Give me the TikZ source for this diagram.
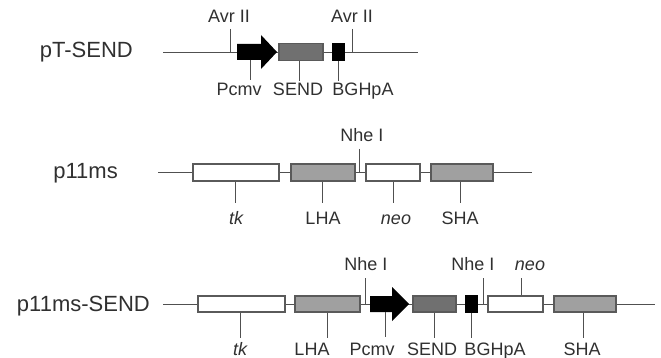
\documentclass[tikz,border=0pt]{standalone}
\usepackage{fontspec}
\setmainfont{Liberation Sans}
\definecolor{linegrey}{HTML}{505050}
\definecolor{boxgrey}{HTML}{5A5A5A}
\definecolor{darkfill}{HTML}{707070}
\definecolor{lightfill}{HTML}{A0A0A0}
\definecolor{txt}{HTML}{303030}
\begin{document}
\begin{tikzpicture}[x=1pt,y=-1pt,
	dna/.style={draw=linegrey,line width=0.9pt},
	part/.style={draw=boxgrey,line width=1.1pt,inner sep=0pt,minimum height=16pt},
	tick/.style={draw=linegrey,line width=0.9pt},
	rowlabel/.style={anchor=base east,inner sep=0pt,text=txt,font=\fontsize{22}{26}\selectfont},
	sitelabel/.style={anchor=base,inner sep=0pt,text=txt,font=\fontsize{18}{21}\selectfont}]

	\useasboundingbox (0,0) rectangle (661,358);

	\node (rowA) at (133,58) [rowlabel] {pT-SEND};
	\node (rowB) at (118,179) [rowlabel] {p11ms};
	\node (rowC) at (150,311) [rowlabel] {p11ms-SEND};

	\coordinate (lineAs) at (163,52);
	\coordinate (lineAe) at (418,52);
	\draw [dna] (lineAs) -- (lineAe);
	\fill [black] (237,44) -- (261,44) -- (261,35) -- (277,52) -- (261,69) -- (261,60) -- (237,60) -- cycle;
	\coordinate (pcmvA) at (250,60);
	\node (sendA) at (301,52) [part,fill=darkfill,minimum width=44pt,minimum height=17pt] {};
	\node (bghA) at (338.5,52) [part,fill=black,draw=black,minimum width=11pt] {};

	\node (avrA) at (229,23) [sitelabel] {Avr II};
	\node (avrB) at (352,23) [sitelabel] {Avr II};
	\draw [tick] (230,29) -- (lineAs -| 230,0);
	\draw [tick] (352,29) -- (lineAs -| 352,0);

	\node (pcmvAl) at (239,96) [sitelabel] {Pcmv};
	\node (sendAl) at (298,96) [sitelabel] {SEND};
	\node (bghAl) at (363,96) [sitelabel] {BGHpA};
	\draw [tick] (pcmvA) -- ++(0,20);
	\draw [tick] (sendA.south -| 299,0) -- ++(0,20);
	\draw [tick] (bghA.south) -- ++(0,20);

	\coordinate (lineBs) at (158,172.5);
	\coordinate (lineBe) at (532,172.5);
	\draw [dna] (lineBs) -- (lineBe);
	\node (tkB) at (236,172.5) [part,fill=white,minimum width=86pt,minimum height=17pt] {};
	\node (lhaB) at (323,172.5) [part,fill=lightfill,minimum width=64pt,minimum height=17pt] {};
	\node (neoB) at (393,172.5) [part,fill=white,minimum width=54pt,minimum height=17pt] {};
	\node (shaB) at (462,172.5) [part,fill=lightfill,minimum width=62pt,minimum height=17pt] {};

	\node (nheB) at (362,142) [sitelabel] {Nhe I};
	\draw [tick] (359,149) -- (lineBs -| 359,0);

	\node (tkBl) at (236,225) [sitelabel] {\itshape tk};
	\node (lhaBl) at (323,225) [sitelabel] {LHA};
	\node (neoBl) at (396,225) [sitelabel] {\itshape neo};
	\node (shaBl) at (460,225) [sitelabel] {SHA};
	\draw [tick] (tkB.south -| 235,0) -- ++(0,21);
	\draw [tick] (lhaB.south -| 322,0) -- ++(0,21);
	\draw [tick] (neoB.south) -- ++(0,21);
	\draw [tick] (shaB.south -| 460,0) -- ++(0,21);

	\coordinate (lineCs) at (163,304);
	\coordinate (lineCe) at (655,304);
	\draw [dna] (lineCs) -- (lineCe);
	\node (tkC) at (241.5,304) [part,fill=white,minimum width=87pt] {};
	\node (lhaC) at (327.5,304) [part,fill=lightfill,minimum width=65pt] {};
	\fill [black] (370,296) -- (392,296) -- (392,287) -- (409,304) -- (392,321) -- (392,312) -- (370,312) -- cycle;
	\coordinate (pcmvC) at (385,312);
	\node (sendC) at (434.5,304) [part,fill=darkfill,minimum width=43pt] {};
	\node (bghC) at (471.5,304) [part,fill=black,draw=black,minimum width=11pt] {};
	\node (neoC) at (515.5,304) [part,fill=white,minimum width=55pt] {};
	\node (shaC) at (585,304) [part,fill=lightfill,minimum width=62pt] {};

	\node (nheC) at (366,270) [sitelabel] {Nhe I};
	\node (nheD) at (473,270) [sitelabel] {Nhe I};
	\node (neoCl) at (530,270) [sitelabel] {\itshape neo};
	\draw [tick] (365,278) -- (lineCs -| 365,0);
	\draw [tick] (483,278) -- (lineCs -| 483,0);
	\draw [tick] (521,278) -- (neoC.north -| 521,0);

	\node (tkCl) at (240,355) [sitelabel] {\itshape tk};
	\node (lhaCl) at (312,355) [sitelabel] {LHA};
	\node (pcmvCl) at (372,355) [sitelabel] {Pcmv};
	\node (sendCl) at (432,355) [sitelabel] {SEND};
	\node (bghCl) at (495,355) [sitelabel] {BGHpA};
	\node (shaCl) at (582,355) [sitelabel] {SHA};
	\draw [tick] (tkC.south -| 240,0) -- ++(0,25);
	\draw [tick] (lhaC.south) -- ++(0,25);
	\draw [tick] (pcmvC) -- ++(0,25);
	\draw [tick] (sendC.south) -- ++(0,25);
	\draw [tick] (bghC.south) -- ++(0,25);
	\draw [tick] (shaC.south -| 583,0) -- ++(0,25);

\end{tikzpicture}
\end{document}
